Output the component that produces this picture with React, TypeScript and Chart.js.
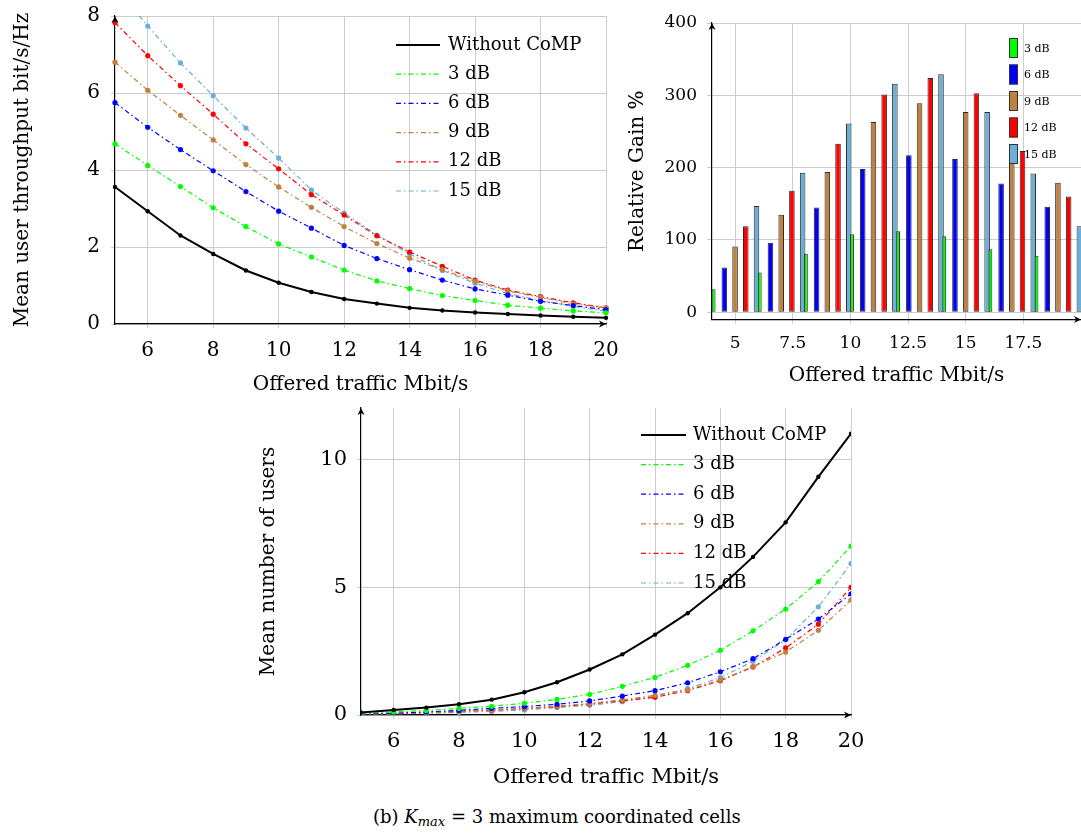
import React, { useEffect, useRef } from "react";
import { Chart, registerables } from "chart.js";

Chart.register(...registerables);

const FONT = "'DejaVu Serif', serif";

// ---------- data ----------
const traffic = [5, 6, 7, 8, 9, 10, 11, 12, 13, 14, 15, 16, 17, 18, 19, 20];
const seriesNames = ["Without CoMP", "3 dB", "6 dB", "9 dB", "12 dB", "15 dB"];
const seriesColors = ["#000000", "#00ff00", "#0000ff", "#bf8040", "#ff0000", "#6baed6"];

const thrWithout = [3.56, 2.93, 2.3, 1.82, 1.39, 1.07, 0.83, 0.65, 0.53, 0.42, 0.35, 0.3, 0.26, 0.22, 0.19, 0.16];
const thr3 = [4.68, 4.12, 3.57, 3.02, 2.53, 2.08, 1.74, 1.4, 1.12, 0.92, 0.74, 0.61, 0.49, 0.41, 0.34, 0.29];
const thr6 = [5.75, 5.11, 4.53, 3.98, 3.44, 2.93, 2.49, 2.04, 1.7, 1.41, 1.14, 0.91, 0.75, 0.59, 0.48, 0.37];
const thr9 = [6.8, 6.07, 5.42, 4.78, 4.14, 3.56, 3.03, 2.53, 2.09, 1.71, 1.41, 1.11, 0.86, 0.69, 0.52, 0.42];
const thr12 = [7.83, 6.97, 6.19, 5.45, 4.68, 4.03, 3.36, 2.83, 2.29, 1.87, 1.5, 1.14, 0.88, 0.71, 0.55, 0.42];
const thr15 = [8.75, 7.74, 6.78, 5.93, 5.09, 4.31, 3.48, 2.88, 2.31, 1.82, 1.39, 1.06, 0.79, 0.61, 0.46, 0.33];

const usersWithout = [0.1, 0.2, 0.29, 0.42, 0.6, 0.89, 1.28, 1.78, 2.37, 3.14, 3.98, 4.99, 6.18, 7.53, 9.31, 11.0];
const users3 = [0.06, 0.12, 0.18, 0.26, 0.34, 0.46, 0.61, 0.81, 1.12, 1.47, 1.94, 2.53, 3.29, 4.14, 5.21, 6.6];
const users6 = [0.04, 0.07, 0.12, 0.18, 0.26, 0.33, 0.42, 0.55, 0.74, 0.95, 1.26, 1.69, 2.2, 2.96, 3.75, 4.74];
const users9 = [0.03, 0.06, 0.09, 0.14, 0.2, 0.26, 0.35, 0.45, 0.59, 0.77, 0.98, 1.37, 1.89, 2.46, 3.31, 4.5];
const users12 = [0.03, 0.05, 0.09, 0.14, 0.19, 0.25, 0.33, 0.43, 0.56, 0.69, 0.95, 1.34, 1.88, 2.62, 3.55, 4.99];
const users15 = [0.02, 0.04, 0.07, 0.1, 0.14, 0.2, 0.29, 0.38, 0.52, 0.74, 1.03, 1.46, 2.1, 2.94, 4.23, 5.92];

const gainX = [5, 7, 9, 11, 13, 15, 17, 19];
const gainNames = ["3 dB", "6 dB", "9 dB", "12 dB", "15 dB"];
const gainColors = ["#00ff00", "#0000ff", "#bf8040", "#ff0000", "#6baed6"];
const gain3 = [32, 55, 81, 108, 112, 105, 87, 78];
const gain6 = [62, 96, 145, 198, 217, 212, 178, 146];
const gain9 = [91, 135, 194, 263, 289, 277, 225, 179];
const gain12 = [119, 168, 233, 301, 324, 303, 223, 160];
const gain15 = [147, 193, 261, 316, 329, 277, 192, 119];

const thrXTicks = [6, 8, 10, 12, 14, 16, 18, 20];
const thrYTicks = [0, 2, 4, 6, 8];
const gainXTicks = [5, 7.5, 10, 12.5, 15, 17.5];
const gainYTicks = [0, 100, 200, 300, 400];
const usersXTicks = [6, 8, 10, 12, 14, 16, 18, 20];
const usersYTicks = [0, 5, 10];

const xTitle = "Offered traffic Mbit/s";

// ---------- plugins ----------
function arrowHead(ctx: CanvasRenderingContext2D, x: number, y: number, dir: "up" | "right") {
  ctx.beginPath();
  if (dir === "up") {
    ctx.moveTo(x, y);
    ctx.lineTo(x - 3.5, y + 7);
    ctx.lineTo(x, y + 5);
    ctx.lineTo(x + 3.5, y + 7);
  } else {
    ctx.moveTo(x, y);
    ctx.lineTo(x - 7, y - 3.5);
    ctx.lineTo(x - 5, y);
    ctx.lineTo(x - 7, y + 3.5);
  }
  ctx.closePath();
  ctx.fill();
}

const arrowPlugin = {
  id: "axisArrows",
  afterDraw(chart: any) {
    const { ctx, chartArea: a } = chart;
    ctx.save();
    ctx.fillStyle = "#000";
    arrowHead(ctx, a.left, a.top, "up");
    arrowHead(ctx, a.right, a.bottom, "right");
    ctx.restore();
  },
};

const lineLegendPlugin = {
  id: "lineLegend",
  afterDatasetsDraw(chart: any, _args: any, o: any) {
    const { ctx, chartArea: a } = chart;
    const x0 = a.right + o.dx;
    let y = a.top + o.dy;
    chart.data.datasets.forEach((ds: any) => {
      ctx.save();
      ctx.strokeStyle = ds.borderColor;
      ctx.lineWidth = ds.borderWidth;
      ctx.setLineDash(ds.borderDash || []);
      ctx.beginPath();
      ctx.moveTo(x0, y);
      ctx.lineTo(x0 + o.len, y);
      ctx.stroke();
      ctx.setLineDash([]);
      ctx.fillStyle = "#000";
      ctx.font = `${o.size}px ${FONT}`;
      ctx.textBaseline = "middle";
      ctx.fillText(ds.label, x0 + o.len + o.gap, y);
      ctx.restore();
      y += o.rowH;
    });
  },
};

const barLegendPlugin = {
  id: "barLegend",
  afterDatasetsDraw(chart: any, _args: any, o: any) {
    const { ctx, chartArea: a } = chart;
    const x = a.right + o.dx;
    let y = a.top + o.dy;
    chart.data.datasets.forEach((ds: any) => {
      ctx.save();
      ctx.fillStyle = ds.backgroundColor;
      ctx.fillRect(x, y - o.h / 2, o.w, o.h);
      ctx.strokeStyle = "#333";
      ctx.lineWidth = 1;
      ctx.strokeRect(x + 0.5, y - o.h / 2 + 0.5, o.w - 1, o.h - 1);
      ctx.fillStyle = "#000";
      ctx.font = `${o.size}px ${FONT}`;
      ctx.textBaseline = "middle";
      ctx.fillText(ds.label, x + o.w + o.gap, y + 1);
      ctx.restore();
      y += o.rowH;
    });
  },
};

// ---------- helpers ----------
function axis(o: any) {
  return {
    type: "linear",
    position: o.pos,
    min: o.min,
    max: o.max,
    offset: false,
    afterBuildTicks: (s: any) => {
      s.ticks = o.ticks.map((v: number) => ({ value: v }));
    },
    afterFit: (s: any) => {
      if (o.pos === "left") s.width = o.size;
      else s.height = o.size;
      s.paddingTop = 0;
      s.paddingBottom = 0;
      s.paddingLeft = 0;
      s.paddingRight = 0;
    },
    grid: { color: "#cccccc", lineWidth: 1, tickLength: o.tickLength, drawTicks: true, offset: false },
    border: { display: true, color: "#000", width: 1.2 },
    ticks: {
      color: "#000",
      font: { family: FONT, size: o.tickSize },
      padding: o.tickPad,
      maxRotation: 0,
      autoSkip: false,
      callback: (v: any) => String(v),
    },
    title: {
      display: true,
      text: o.title,
      color: "#000",
      font: { family: FONT, size: o.titleSize },
      padding: o.titlePad,
    },
  };
}

function lineSets(values: number[][], clipTop = false) {
  return values.map((vals, i) => ({
    label: seriesNames[i],
    data: vals.map((y, j) => ({ x: traffic[j], y })),
    borderColor: seriesColors[i],
    backgroundColor: seriesColors[i],
    pointBackgroundColor: seriesColors[i],
    pointBorderColor: seriesColors[i],
    pointBorderWidth: 0,
    pointRadius: i === 0 ? 2.2 : 2.6,
    pointHoverRadius: 0,
    borderWidth: i === 0 ? 2 : 1.2,
    borderDash: i === 0 ? [] : [5, 3, 1.5, 3],
    tension: 0,
    fill: false,
    clip: clipTop ? { left: 5, top: 0, right: 5, bottom: 5 } : undefined,
  }));
}

function makeThroughput() {
  return {
    type: "line",
    data: { datasets: lineSets([thrWithout, thr3, thr6, thr9, thr12, thr15], true) },
    options: {
      animation: false,
      responsive: false,
      layout: { padding: { top: 16, right: 34, left: 0, bottom: 0 } },
      plugins: {
        legend: { display: false },
        tooltip: { enabled: false },
        lineLegend: { dx: -210, dy: 29, len: 44, gap: 8, rowH: 29.2, size: 18 },
      },
      scales: {
        x: axis({ pos: "bottom", min: 5, max: 20, ticks: thrXTicks, size: 76, tickLength: 4, tickSize: 20, tickPad: 11, title: xTitle, titleSize: 20, titlePad: { top: 0, bottom: 3 } }),
        y: axis({ pos: "left", min: 0, max: 8, ticks: thrYTicks, size: 115, tickLength: 4, tickSize: 20, tickPad: 11, title: "Mean user throughput bit/s/Hz", titleSize: 20, titlePad: { top: 11, bottom: 0 } }),
      },
    },
    plugins: [lineLegendPlugin, arrowPlugin],
  };
}

function makeGain() {
  const vals = [gain3, gain6, gain9, gain12, gain15];
  return {
    type: "bar",
    data: {
      datasets: vals.map((v, i) => ({
        label: gainNames[i],
        data: v.map((y, j) => ({ x: gainX[j], y })),
        backgroundColor: gainColors[i],
        borderColor: "#2a2a2a",
        borderWidth: 1,
        borderSkipped: false,
        barPercentage: i === 0 ? 0.36 : 0.52,
        categoryPercentage: 1.162,
      })),
    },
    options: {
      animation: false,
      responsive: false,
      layout: { padding: { top: 23, right: 0, left: 0, bottom: 0 } },
      plugins: {
        legend: { display: false },
        tooltip: { enabled: false },
        barLegend: { dx: -72, dy: 25, w: 9, h: 20, gap: 6, rowH: 26.5, size: 11 },
      },
      scales: {
        x: axis({ pos: "bottom", min: 4, max: 20, ticks: gainXTicks, size: 80.5, tickLength: 4, tickSize: 17, tickPad: 9.5, title: xTitle, titleSize: 20, titlePad: { top: 0, bottom: 12 } }),
        y: axis({ pos: "left", min: -10, max: 400, ticks: gainYTicks, size: 92, tickLength: 5, tickSize: 17, tickPad: 10, title: "Relative Gain %", titleSize: 20, titlePad: { top: 5.5, bottom: 0 } }),
      },
    },
    plugins: [barLegendPlugin, arrowPlugin],
  };
}

function makeUsers() {
  return {
    type: "line",
    data: { datasets: lineSets([usersWithout, users3, users6, users9, users12, users15]) },
    options: {
      animation: false,
      responsive: false,
      layout: { padding: { top: 8, right: 29, left: 0, bottom: 0 } },
      plugins: {
        legend: { display: false },
        tooltip: { enabled: false },
        lineLegend: { dx: -210, dy: 27, len: 45, gap: 7, rowH: 29.6, size: 18 },
      },
      scales: {
        x: axis({ pos: "bottom", min: 5, max: 20, ticks: usersXTicks, size: 85, tickLength: 4, tickSize: 21, tickPad: 10, title: xTitle, titleSize: 21, titlePad: { top: 0, bottom: 10 } }),
        y: axis({ pos: "left", min: 0, max: 12, ticks: usersYTicks, size: 121, tickLength: 4, tickSize: 21, tickPad: 10, title: "Mean number of users", titleSize: 20, titlePad: { top: 17, bottom: 0 } }),
      },
    },
    plugins: [lineLegendPlugin, arrowPlugin],
  };
}

function ChartBox({ left, top, width, height, make }: any) {
  const ref = useRef<HTMLCanvasElement>(null);
  useEffect(() => {
    const chart = new Chart(ref.current as HTMLCanvasElement, make() as any);
    return () => chart.destroy();
  }, []);
  return (
    <canvas
      ref={ref}
      width={width}
      height={height}
      style={{ position: "absolute", left, top, width, height, display: "block" }}
    />
  );
}

export default function App() {
  return (
    <div style={{ position: "absolute", left: 0, top: 0, width: 1081, height: 834, overflow: "hidden", background: "#fff" }}>
      <ChartBox left={0} top={0} width={640} height={400} make={makeThroughput} />
      <ChartBox left={620} top={0} width={461} height={400} make={makeGain} />
      <ChartBox left={240} top={400} width={640} height={400} make={makeUsers} />
      <div
        style={{
          position: "absolute",
          left: 373,
          top: 806,
          fontFamily: FONT,
          fontSize: 18,
          lineHeight: "21px",
          whiteSpace: "nowrap",
          color: "#000",
        }}
      >
        (b) <i>K</i>
        <sub style={{ fontSize: 13, verticalAlign: "-3px" }}>
          <i>max</i>
        </sub>{" "}
        = 3 maximum coordinated cells
      </div>
    </div>
  );
}
